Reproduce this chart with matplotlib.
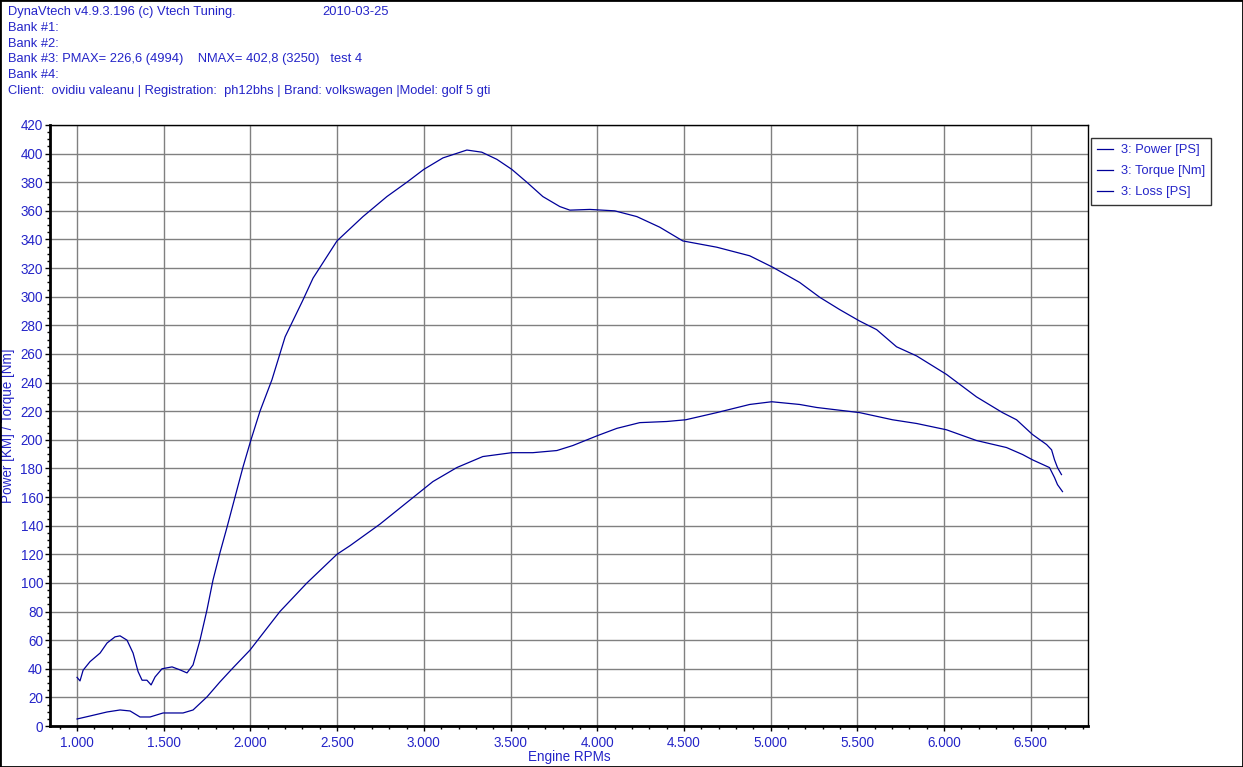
import matplotlib
matplotlib.use("Agg")
import matplotlib.pyplot as plt
from matplotlib.ticker import MultipleLocator, FuncFormatter
from matplotlib.patches import Rectangle

# header lines of the dyno report
header = [
    "DynaVtech v4.9.3.196 (c) Vtech Tuning.",
    "Bank #1:",
    "Bank #2:",
    "Bank #3: PMAX= 226,6 (4994)    NMAX= 402,8 (3250)   test 4",
    "Bank #4:",
    "Client:  ovidiu valeanu | Registration:  ph12bhs | Brand: volkswagen |Model: golf 5 gti",
]
date_text = "2010-03-25"

# torque curve [Nm]
torque_rpm = [1000, 1017, 1035, 1075, 1133, 1173, 1219, 1248, 1288, 1323, 1352, 1375,
              1403, 1427, 1450, 1490, 1548, 1594, 1634, 1669, 1709, 1749, 1784, 1824,
              1865, 1911, 1957, 2003, 2055, 2124, 2200, 2300, 2361, 2499, 2649, 2787,
              2902, 3000, 3110, 3248, 3334, 3421, 3507, 3594, 3686, 3784, 3842, 3957,
              4101, 4228, 4360, 4493, 4689, 4879, 5012, 5167, 5283, 5398, 5513, 5611,
              5726, 5842, 6014, 6187, 6337, 6418, 6510, 6591, 6620, 6637, 6654, 6677]
torque_nm = [34, 31.5, 39, 45, 51, 58, 62.3, 63, 60, 51, 38, 32,
             32, 28.7, 34.3, 40, 41.3, 39.2, 37.1, 42.7, 60, 81, 102, 121,
             139, 160, 181, 200, 220, 242, 272, 297, 313, 339, 356, 370,
             380, 389, 397, 402.5, 401, 396, 389, 380, 370, 363, 360.5, 361,
             360, 356, 348.6, 339, 334.6, 328.6, 320.6, 310, 299.6, 291, 283, 277,
             265, 258.6, 245.7, 230, 219, 214, 203.7, 196.7, 193, 186, 180.6, 175.7]

# power curve [PS]
power_rpm = [1000, 1075, 1173, 1248, 1306, 1363, 1421, 1496, 1611, 1669, 1749, 1824,
             1899, 1997, 2170, 2326, 2499, 2574, 2746, 2937, 3052, 3190, 3340, 3507,
             3628, 3767, 3859, 4003, 4113, 4245, 4401, 4510, 4689, 4879, 5006, 5167,
             5265, 5513, 5703, 5842, 6014, 6187, 6360, 6453, 6510, 6608, 6637, 6654, 6683]
power_ps = [4.9, 7, 9.8, 11.2, 10.5, 6.3, 6.3, 9.1, 9.1, 11.2, 20.3, 30.8,
            40.6, 53, 80, 100, 120, 126, 141, 159.6, 170.8, 180.6, 188.3, 191,
            191, 192.5, 196, 203, 208, 212, 212.8, 214, 219, 224.7, 226.6, 224.7,
            222.6, 219, 214, 211.4, 207, 199.5, 194.6, 189.7, 186, 180.6, 173.6, 168.7, 163.8]

# loss curve is not visible in the picture
loss_rpm = []
loss_ps = []

txt_color = "#2424c8"
line_color = "#000099"
fs = 9.25

plt.rcParams['font.family'] = ['Liberation Sans', 'DejaVu Sans']

fig = plt.figure(figsize=(12.43, 7.67), dpi=100)
ax = fig.add_axes([50 / 1243, 41 / 767, 1038 / 1243, 601 / 767])

ax.plot(power_rpm, power_ps, color=line_color, lw=0.9, label="3: Power [PS]")
ax.plot(torque_rpm, torque_nm, color=line_color, lw=0.9, label="3: Torque [Nm]")
ax.plot(loss_rpm, loss_ps, color=line_color, lw=0.9, label="3: Loss [PS]")

ax.set_xlim(844, 6830)
ax.set_ylim(0, 420)
ax.xaxis.set_major_locator(MultipleLocator(500))
ax.xaxis.set_minor_locator(MultipleLocator(100))
ax.yaxis.set_major_locator(MultipleLocator(20))
ax.yaxis.set_minor_locator(MultipleLocator(5))
ax.xaxis.set_major_formatter(FuncFormatter(lambda v, p: f"{int(v) // 1000}.{int(v) % 1000:03d}"))

ax.grid(True, which='major', color='#808080', lw=1)
ax.tick_params(which='both', direction='out', colors='black', labelcolor=txt_color, labelsize=fs + 0.5)
ax.tick_params(which='major', length=3.5, width=1, pad=1.5)
ax.tick_params(which='minor', length=2, width=1)
ax.tick_params(axis='x', which='major', pad=4)
for side in ['top', 'right']:
    ax.spines[side].set_linewidth(1)
for side in ['left', 'bottom']:
    ax.spines[side].set_linewidth(2)

ax.set_xlabel("Engine RPMs", color=txt_color, fontsize=fs + 0.5, labelpad=0)
ax.set_ylabel("Power [KM] / Torque [Nm]", color=txt_color, fontsize=fs + 0.5, labelpad=4)

leg = fig.legend(loc='upper left', bbox_to_anchor=(1091 / 1243, 1 - 138 / 767),
                 fontsize=fs, frameon=True, fancybox=False, edgecolor='black',
                 handlelength=1.2, handletextpad=0.6, borderpad=0.5, labelspacing=0.7,
                 borderaxespad=0)
leg.get_frame().set_linewidth(1)
for t in leg.get_texts():
    t.set_color(txt_color)

# header text block
for i, line in enumerate(header):
    fig.text(8 / 1243, 1 - (12 + i * 15.8) / 767, line, color=txt_color,
             fontsize=fs, va='center', ha='left')
fig.text(322 / 1243, 1 - 12 / 767, date_text, color=txt_color, fontsize=fs, va='center')

# outer border
fig.patches.append(Rectangle((0, 0), 1, 1, transform=fig.transFigure, fill=False,
                             edgecolor='black', lw=2))

fig.savefig("out.png", dpi=100)
